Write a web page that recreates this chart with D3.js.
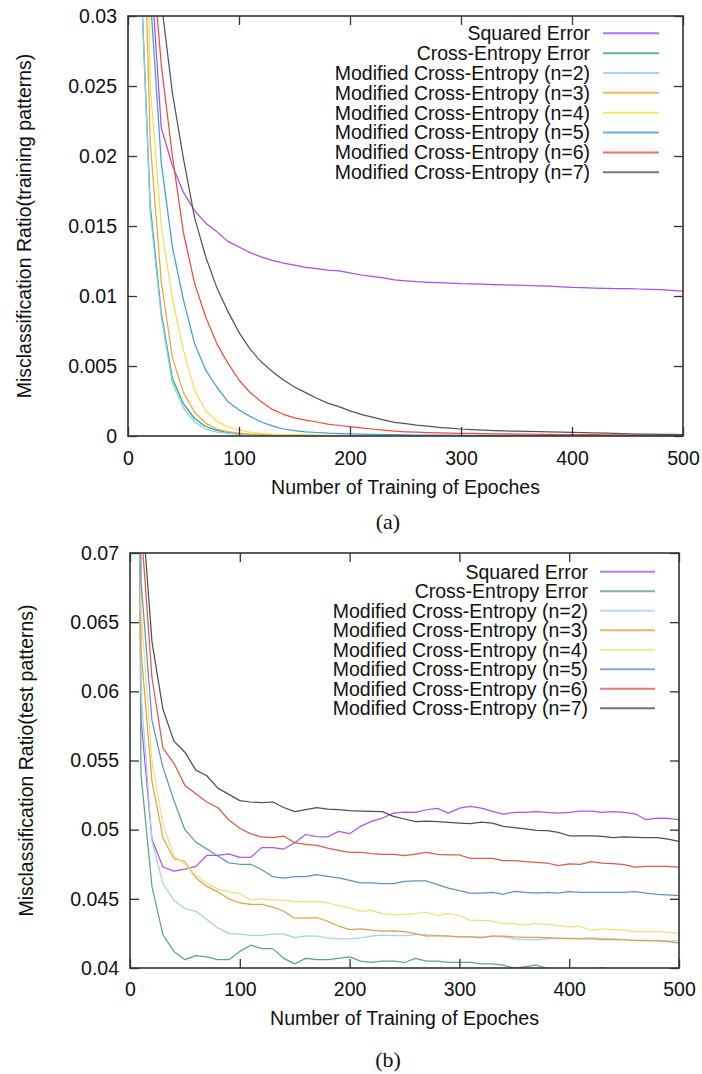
<!DOCTYPE html>
<html>
<head>
<meta charset="utf-8">
<script src="https://cdn.jsdelivr.net/npm/d3@7"></script>
<style>
  body { margin: 0; background: #fff; }
  text { font-family: "Liberation Sans", Arial, sans-serif; fill: #111; }
</style>
</head>
<body>
<div id="container"></div>
<script>
// x grid shared by both panels (epochs)
const epochs = [0, 10, 20, 30, 40, 50, 60, 70, 80, 90, 100, 110, 120, 130, 140, 150, 160, 170, 180, 190, 200,
  210, 220, 230, 240, 250, 260, 270, 280, 290, 300, 310, 320, 330, 340, 350, 360, 370, 380, 390, 400,
  410, 420, 430, 440, 450, 460, 470, 480, 490, 500];
const xTicks = [0, 100, 200, 300, 400, 500];

const seriesNames = ["Squared Error", "Cross-Entropy Error", "Modified Cross-Entropy (n=2)",
  "Modified Cross-Entropy (n=3)", "Modified Cross-Entropy (n=4)", "Modified Cross-Entropy (n=5)",
  "Modified Cross-Entropy (n=6)", "Modified Cross-Entropy (n=7)"];

// (a) training patterns
const trainYTicks = [0, 0.005, 0.01, 0.015, 0.02, 0.025, 0.03];
const trainSquared = [0.2, 0.060, 0.034, 0.022, 0.0193, 0.0174, 0.0161, 0.0152, 0.0146, 0.0139, 0.0135, 0.0131, 0.0128,
  0.01255, 0.01235, 0.0122, 0.01205, 0.01195, 0.01185, 0.0118, 0.01165, 0.0115, 0.0114, 0.0113, 0.01115, 0.01108,
  0.01102, 0.01098, 0.01095, 0.01092, 0.01088, 0.01086, 0.01084, 0.01082, 0.0108, 0.01078, 0.01075, 0.01073, 0.0107,
  0.01066, 0.01062, 0.0106, 0.01057, 0.01055, 0.01053, 0.01052, 0.0105, 0.01047, 0.01045, 0.0104, 0.01035];
const trainCE = [0.2, 0.036, 0.0165, 0.0088, 0.0041, 0.0023, 0.00125, 0.00068, 0.0004, 0.00025, 0.00017, 0.00012,
  0.00009, 0.00007, 0.00006, 0.00005, 0.000045, 0.00004, 0.000035, 0.00003, 0.00003, 0.000025, 0.000025, 0.00002,
  0.00002, 0.00002, 0.000015, 0.000015, 0.000015, 0.00001, 0.00001, 0.00001, 0.00001, 0.00001, 0.00001, 0.00001,
  0.00001, 0.00001, 0.00001, 0.00001, 0.00001, 0.00001, 0.00001, 0.00001, 0.00001, 0.00001, 0.00001, 0.00001,
  0.00001, 0.00001, 0.00001];
const trainMod2 = [0.2, 0.036, 0.016, 0.0085, 0.0038, 0.002, 0.001, 0.0005, 0.00028, 0.00018, 0.00012, 0.00009,
  0.00007, 0.00006, 0.00005, 0.00004, 0.000035, 0.00003, 0.00003, 0.000025, 0.000025, 0.00002, 0.00002, 0.00002,
  0.000015, 0.000015, 0.000015, 0.00001, 0.00001, 0.00001, 0.00001, 0.00001, 0.00001, 0.00001, 0.00001, 0.00001,
  0.00001, 0.00001, 0.00001, 0.00001, 0.00001, 0.00001, 0.00001, 0.00001, 0.00001, 0.00001, 0.00001, 0.00001,
  0.00001, 0.00001, 0.00001];
const trainMod3 = [0.2, 0.05, 0.021, 0.011, 0.0056, 0.0031, 0.0017, 0.0009, 0.0005, 0.00032, 0.0002, 0.00014,
  0.0001, 0.00008, 0.00006, 0.00005, 0.00004, 0.000035, 0.00003, 0.00003, 0.000025, 0.000025, 0.00002, 0.00002,
  0.00002, 0.000015, 0.000015, 0.000015, 0.00001, 0.00001, 0.00001, 0.00001, 0.00001, 0.00001, 0.00001, 0.00001,
  0.00001, 0.00001, 0.00001, 0.00001, 0.00001, 0.00001, 0.00001, 0.00001, 0.00001, 0.00001, 0.00001, 0.00001,
  0.00001, 0.00001, 0.00001];
const trainMod4 = [0.2, 0.07, 0.025, 0.015, 0.0098, 0.0061, 0.0033, 0.0018, 0.00105, 0.00065, 0.00043, 0.00028,
  0.00018, 0.00013, 0.0001, 0.00008, 0.00006, 0.00005, 0.00004, 0.000035, 0.00003, 0.00003, 0.000025, 0.000025,
  0.00002, 0.00002, 0.00002, 0.000015, 0.000015, 0.000015, 0.00001, 0.00001, 0.00001, 0.00001, 0.00001, 0.00001,
  0.00001, 0.00001, 0.00001, 0.00001, 0.00001, 0.00001, 0.00001, 0.00001, 0.00001, 0.00001, 0.00001, 0.00001,
  0.00001, 0.00001, 0.00001];
const trainMod5 = [0.2, 0.08, 0.0315, 0.0195, 0.0135, 0.0097, 0.0066, 0.0047, 0.0035, 0.00245, 0.00186, 0.0014,
  0.001, 0.00072, 0.0005, 0.00038, 0.0003, 0.00025, 0.0002, 0.00017, 0.00015, 0.00013, 0.00011, 0.0001, 0.00009,
  0.00008, 0.00007, 0.00007, 0.00006, 0.00006, 0.00005, 0.00005, 0.00005, 0.00004, 0.00004, 0.00004, 0.00004,
  0.00003, 0.00003, 0.00003, 0.00003, 0.00003, 0.00003, 0.00002, 0.00002, 0.00002, 0.00002, 0.00002, 0.00002,
  0.00002, 0.00002];
const trainMod6 = [0.2, 0.08, 0.036, 0.0265, 0.02, 0.0145, 0.0109, 0.0085, 0.0066, 0.0052, 0.004, 0.0031, 0.00245,
  0.0019, 0.00155, 0.0013, 0.00114, 0.001, 0.00085, 0.00075, 0.00067, 0.00058, 0.0005, 0.00042, 0.00034, 0.0003,
  0.00027, 0.00024, 0.00022, 0.0002, 0.00019, 0.00018, 0.00017, 0.00016, 0.00015, 0.00014, 0.00013, 0.00012,
  0.00011, 0.0001, 0.0001, 0.00009, 0.00009, 0.00008, 0.00008, 0.00007, 0.00007, 0.00006, 0.00006, 0.00005, 0.00005];
const trainMod7 = [0.2, 0.09, 0.045, 0.031, 0.0245, 0.0198, 0.0156, 0.0128, 0.0106, 0.0089, 0.0074, 0.0062, 0.0053,
  0.0046, 0.004, 0.0035, 0.0031, 0.0027, 0.00235, 0.0021, 0.0018, 0.00155, 0.00135, 0.00115, 0.00098, 0.00088,
  0.00078, 0.0007, 0.00062, 0.00056, 0.0005, 0.00046, 0.00042, 0.00039, 0.00036, 0.00034, 0.00033, 0.00031, 0.0003,
  0.00028, 0.00026, 0.00024, 0.00022, 0.0002, 0.00018, 0.00016, 0.00014, 0.00013, 0.00012, 0.00011, 0.0001];

// (b) test patterns
const testYTicks = [0.04, 0.045, 0.05, 0.055, 0.06, 0.065, 0.07];
const testSquared = [0.2, 0.058, 0.0493, 0.0473, 0.047, 0.04715, 0.04735, 0.04815, 0.04815, 0.04825, 0.048, 0.048,
  0.0487, 0.0487, 0.0486, 0.04905, 0.04965, 0.0495, 0.04947, 0.04988, 0.04971, 0.05024, 0.0506, 0.05084, 0.0512,
  0.05127, 0.05125, 0.05144, 0.05154, 0.0512, 0.05156, 0.05168, 0.05156, 0.05132, 0.05113, 0.05125, 0.05125,
  0.0513, 0.05125, 0.0512, 0.05125, 0.05134, 0.05134, 0.05125, 0.0513, 0.05125, 0.05115, 0.05072, 0.05084,
  0.05081, 0.05072];
const testCE = [0.2, 0.054, 0.0459, 0.0424, 0.0412, 0.0406, 0.0409, 0.0408, 0.0406, 0.0406, 0.0412, 0.04165,
  0.0414, 0.0414, 0.0407, 0.0403, 0.0407, 0.0406, 0.0406, 0.0407, 0.0408, 0.0405, 0.0404, 0.0405, 0.0405, 0.0404,
  0.0407, 0.0405, 0.0405, 0.0404, 0.0404, 0.0404, 0.0403, 0.0403, 0.0402, 0.04, 0.0401, 0.0402, 0.04, 0.0399,
  0.0398, 0.0397, 0.0398, 0.04005, 0.0398, 0.0397, 0.0396, 0.0397, 0.0396, 0.0395, 0.0395];
const testMod2 = [0.2, 0.06, 0.0492, 0.0461, 0.0449, 0.0443, 0.0441, 0.0435, 0.0429, 0.0425, 0.04245, 0.04235,
  0.04235, 0.04245, 0.04245, 0.0422, 0.04233, 0.0423, 0.04217, 0.0421, 0.0421, 0.04217, 0.0423, 0.04237, 0.04234,
  0.04234, 0.04241, 0.04241, 0.04234, 0.0423, 0.04225, 0.04225, 0.04225, 0.0423, 0.04225, 0.0421, 0.04205, 0.04205,
  0.0421, 0.04217, 0.04215, 0.04215, 0.04217, 0.04215, 0.0421, 0.04205, 0.04198, 0.04196, 0.04196, 0.04196, 0.04196];
const testMod3 = [0.2, 0.063, 0.0535, 0.0494, 0.0479, 0.0477, 0.0465, 0.0459, 0.0455, 0.045, 0.0447, 0.0446,
  0.0446, 0.0444, 0.0441, 0.0436, 0.0436, 0.04365, 0.04338, 0.04302, 0.04278, 0.04282, 0.04273, 0.04266, 0.04268,
  0.04263, 0.04249, 0.0423, 0.04234, 0.0423, 0.04225, 0.04225, 0.04217, 0.0423, 0.0423, 0.04225, 0.04222, 0.04222,
  0.0422, 0.04215, 0.04213, 0.0421, 0.0421, 0.04205, 0.04205, 0.04203, 0.042, 0.042, 0.04198, 0.04191, 0.04179];
const testMod4 = [0.2, 0.066, 0.055, 0.0504, 0.0481, 0.0475, 0.0467, 0.0461, 0.0457, 0.0455, 0.0454, 0.0449,
  0.045, 0.0449, 0.0449, 0.0448, 0.0448, 0.04482, 0.0447, 0.04451, 0.04434, 0.0441, 0.04417, 0.04393, 0.04386,
  0.04386, 0.04393, 0.04403, 0.04379, 0.04393, 0.04379, 0.04345, 0.04345, 0.04338, 0.04321, 0.04321, 0.04311,
  0.04321, 0.04316, 0.04306, 0.04297, 0.04302, 0.04273, 0.04282, 0.04278, 0.04273, 0.04263, 0.04263, 0.04263,
  0.04258, 0.04249];
const testMod5 = [0.2, 0.068, 0.0579, 0.0545, 0.0521, 0.05, 0.0491, 0.0486, 0.0481, 0.0476, 0.0475, 0.0475,
  0.0471, 0.0466, 0.0465, 0.0466, 0.0466, 0.04675, 0.04663, 0.04651, 0.04634, 0.04615, 0.04615, 0.0461, 0.0461,
  0.04627, 0.04629, 0.04629, 0.04603, 0.04578, 0.04559, 0.04542, 0.04542, 0.04547, 0.04533, 0.04554, 0.04547,
  0.04542, 0.04547, 0.04542, 0.04552, 0.04547, 0.04547, 0.04547, 0.04547, 0.04547, 0.04552, 0.04542, 0.04533,
  0.04528, 0.04523];
const testMod6 = [0.2, 0.072, 0.061, 0.0559, 0.0548, 0.0532, 0.0526, 0.052, 0.0516, 0.0507, 0.0501, 0.0497,
  0.04947, 0.04942, 0.04954, 0.04906, 0.04894, 0.04886, 0.04867, 0.0485, 0.04836, 0.04836, 0.04826, 0.04822,
  0.04822, 0.04812, 0.04824, 0.04836, 0.04822, 0.04817, 0.04817, 0.04793, 0.04793, 0.04793, 0.04776, 0.04776,
  0.04769, 0.04764, 0.04759, 0.0474, 0.04752, 0.04749, 0.04769, 0.04759, 0.04754, 0.04747, 0.0473, 0.04735,
  0.04735, 0.04735, 0.0473];
const testMod7 = [0.2, 0.0743, 0.0636, 0.0587, 0.0564, 0.0556, 0.0543, 0.0539, 0.053, 0.05255, 0.0521, 0.052,
  0.05195, 0.052, 0.0516, 0.0513, 0.05145, 0.0516, 0.05149, 0.05144, 0.05137, 0.05134, 0.05132, 0.0513, 0.05096,
  0.05077, 0.05058, 0.05062, 0.05058, 0.05053, 0.05048, 0.05043, 0.05055, 0.05048, 0.05024, 0.05014, 0.05005,
  0.04995, 0.04993, 0.0498, 0.04956, 0.04956, 0.04956, 0.04952, 0.04942, 0.04947, 0.04944, 0.04942, 0.04942,
  0.04932, 0.04915];

const trainColors = ["#a94ee9", "#2aa58c", "#86cdee", "#f0a43a", "#f5e04c", "#3d9ed8", "#f24a3c", "#555555"];
const testColors = ["#ad55ee", "#5aa97e", "#a6d0f2", "#e0a248", "#f2e07c", "#6090cf", "#e05a48", "#505050"];

const w = 702;
const h = 1074;
let svg = d3.select("#container").append("svg").attr("width", w).attr("height", h);

function drawPanel(p) {
  const xScale = d3.scaleLinear().domain([0, 500]).range([p.left, p.right]);
  const yScale = d3.scaleLinear().domain(p.yDomain).range([p.bottom, p.top]);

  svg.append("clipPath").attr("id", "clip-" + p.id)
    .append("rect")
    .attr("x", p.left).attr("y", p.top)
    .attr("width", p.right - p.left).attr("height", p.bottom - p.top);

  //Lines
  const line = d3.line()
    .x((d, i) => xScale(epochs[i]))
    .y((d) => yScale(d));
  const lines = svg.append("g").attr("clip-path", "url(#clip-" + p.id + ")");
  p.series.forEach((s, k) => {
    lines.append("path")
      .datum(s.slice(0, epochs.length))
      .attr("fill", "none")
      .attr("stroke", p.colors[k])
      .attr("stroke-width", 1.25)
      .attr("stroke-linejoin", "round")
      .attr("d", line);
  });

  //Axes (ticks inward on all four sides)
  const fmt = (d) => String(d);
  const axes = [
    svg.append("g").attr("transform", "translate(0," + p.bottom + ")")
      .call(d3.axisBottom(xScale).tickValues(xTicks).tickSizeInner(-9).tickSizeOuter(0).tickPadding(p.xPad).tickFormat(fmt)),
    svg.append("g").attr("transform", "translate(0," + p.top + ")")
      .call(d3.axisTop(xScale).tickValues(xTicks).tickSizeInner(-9).tickSizeOuter(0).tickFormat("")),
    svg.append("g").attr("transform", "translate(" + p.left + ",0)")
      .call(d3.axisLeft(yScale).tickValues(p.yTicks).tickSizeInner(-9).tickSizeOuter(0).tickPadding(p.yPad).tickFormat(fmt)),
    svg.append("g").attr("transform", "translate(" + p.right + ",0)")
      .call(d3.axisRight(yScale).tickValues(p.yTicks).tickSizeInner(-9).tickSizeOuter(0).tickFormat(""))
  ];
  axes.forEach((a) => {
    a.select(".domain").remove();
    a.selectAll("line").attr("stroke", "#333").attr("stroke-width", 1.3);
    a.selectAll("text").style("font-size", "19.5px").attr("fill", "#111");
  });

  //Frame
  svg.append("rect")
    .attr("x", p.left).attr("y", p.top)
    .attr("width", p.right - p.left).attr("height", p.bottom - p.top)
    .attr("fill", "none").attr("stroke", "#333").attr("stroke-width", 1.6);

  //Legend
  seriesNames.forEach((name, k) => {
    const ly = p.legendY + k * p.legendStep;
    svg.append("text")
      .attr("x", p.legendTextX).attr("y", ly).attr("dy", "0.35em")
      .attr("text-anchor", "end")
      .style("font-size", "19.5px")
      .text(name);
    svg.append("line")
      .attr("x1", p.legendX1).attr("x2", p.legendX2)
      .attr("y1", ly).attr("y2", ly)
      .attr("stroke", p.colors[k]).attr("stroke-width", 2).attr("stroke-opacity", 0.8);
  });

  //Titles
  svg.append("text")
    .attr("x", (p.left + p.right) / 2).attr("y", p.xTitleY)
    .attr("text-anchor", "middle")
    .style("font-size", "19.5px")
    .text("Number of Training of Epoches");
  svg.append("text")
    .attr("transform", "rotate(-90)")
    .attr("x", -(p.top + p.bottom) / 2).attr("y", p.yTitleX)
    .attr("text-anchor", "middle")
    .style("font-size", "19.5px")
    .text(p.yTitle);
  svg.append("text")
    .attr("x", 388).attr("y", p.captionY)
    .attr("text-anchor", "middle")
    .style("font-family", "'Liberation Serif', 'Times New Roman', serif")
    .style("font-size", "22px")
    .text(p.caption);
}

drawPanel({
  id: "a", left: 128, right: 683, top: 16, bottom: 436,
  yDomain: [0, 0.03], yTicks: trainYTicks, xPad: 15, yPad: 11,
  series: [trainSquared, trainCE, trainMod2, trainMod3, trainMod4, trainMod5, trainMod6, trainMod7],
  colors: trainColors,
  legendTextX: 590, legendX1: 603, legendX2: 659, legendY: 33.3, legendStep: 19.85,
  xTitleY: 494, yTitleX: 31, yTitle: "Misclassification Ratio(training patterns)",
  captionY: 529, caption: "(a)"
});

drawPanel({
  id: "b", left: 130, right: 679, top: 553, bottom: 968,
  yDomain: [0.04, 0.07], yTicks: testYTicks, xPad: 14, yPad: 11,
  series: [testSquared, testCE, testMod2, testMod3, testMod4, testMod5, testMod6, testMod7],
  colors: testColors,
  legendTextX: 588, legendX1: 600, legendX2: 655, legendY: 571.7, legendStep: 19.5,
  xTitleY: 1025, yTitleX: 33, yTitle: "Misclassification Ratio(test patterns)",
  captionY: 1067, caption: "(b)"
});
</script>
</body>
</html>
